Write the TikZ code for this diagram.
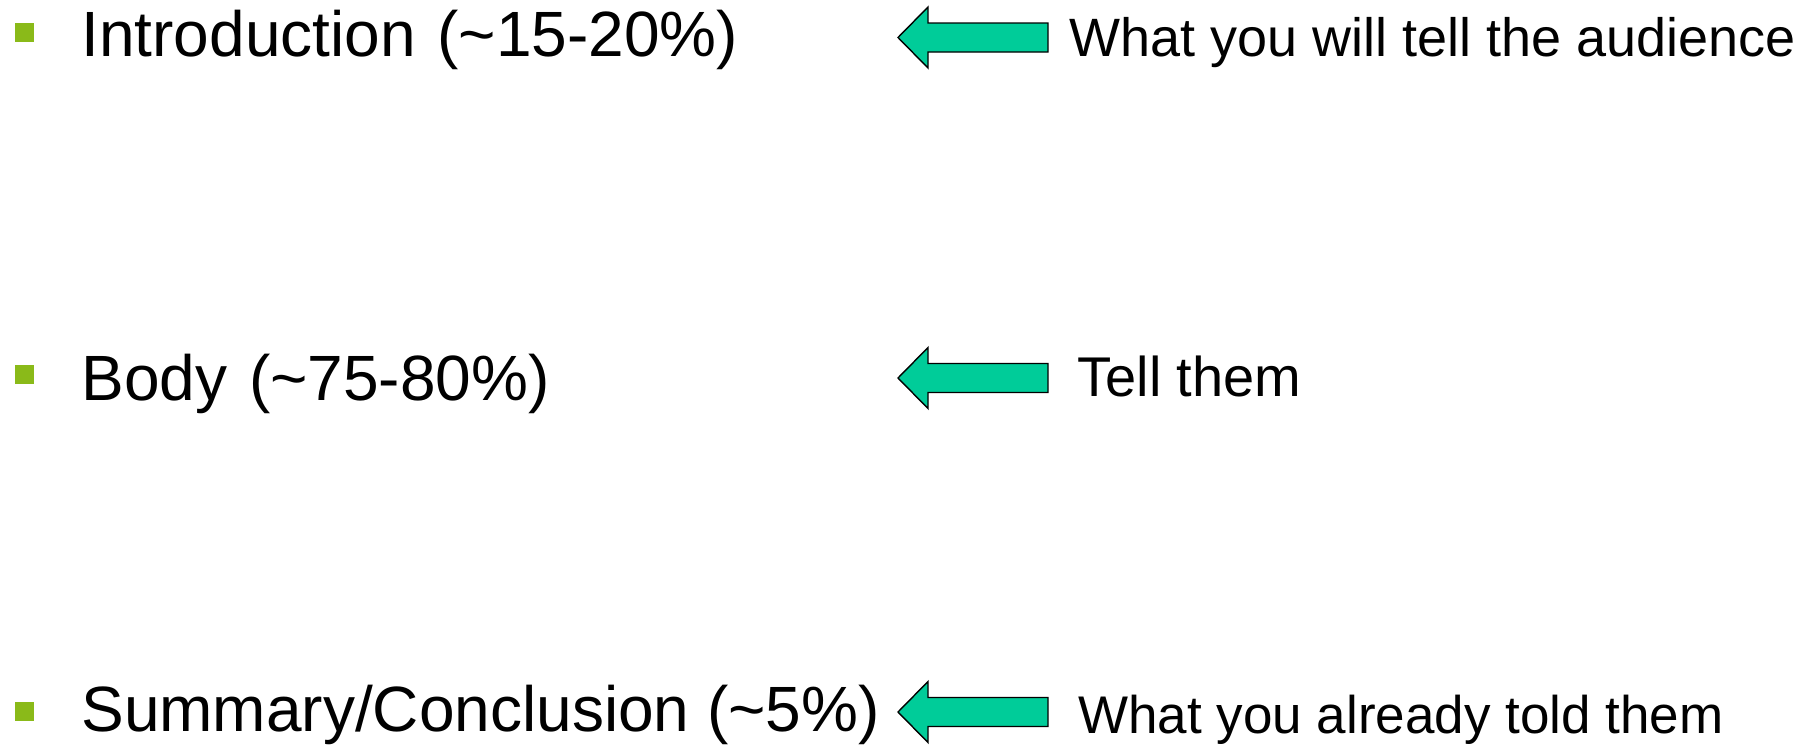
\documentclass[tikz,border=0pt]{standalone}
\usepackage{fontspec}
\setmainfont{Liberation Sans}
\usetikzlibrary{positioning}
\definecolor{BulletGreen}{RGB}{138,186,25}
\definecolor{ArrowTeal}{RGB}{0,204,153}

\begin{document}
\begin{tikzpicture}[x=0.5pt,y=-0.5pt,
  topic/.style={anchor=base west,inner sep=0pt,font=\fontsize{32}{38}\selectfont},
  remark/.style={anchor=base west,inner sep=0pt,font=\fontsize{26.5}{32}\selectfont},
  bullet/.style={fill=BulletGreen,minimum size=9.5pt,inner sep=0pt},
  pointer/.pic={\draw[fill=ArrowTeal,line width=0.7pt,line join=miter]
    (0,0) -- (30,-30.5) -- (30,-14.5) -- (150,-14.5) -- (150,14.5)
    -- (30,14.5) -- (30,30.5) -- cycle;}]
  \useasboundingbox (0,0) rectangle (1816,745);
  % left column
  \node (introdot) [bullet] at (24.5,32) {};
  \node (intro) [topic] at (81,56) {Introduction\hspace{2pt} (\textasciitilde15-20\%)};
  \node (bodydot) [bullet] at (24.5,374) {};
  \node (body) [topic] at (81,400) {Body\hspace{2pt} (\textasciitilde75-80\%)};
  \node (sumdot) [bullet] at (24.5,711) {};
  \node (summary) [topic] at (81,731) {Summary/Conclusion (\textasciitilde5\%)};
  % arrows
  \coordinate (introtip) at (898,37.5);
  \coordinate (bodytip) at (898,378);
  \coordinate (sumtip) at (898,712);
  \pic at (introtip) {pointer};
  \pic at (bodytip) {pointer};
  \pic at (sumtip) {pointer};
  % right column
  \node (tellwhat) [remark,font=\fontsize{27}{32}\selectfont] at (1069,56.5) {What you will tell the audience};
  \node (tell) [remark,font=\fontsize{28}{34}\selectfont] at (1077,396) {Tell them};
  \node (told) [remark] at (1078,733) {What you already told them};
\end{tikzpicture}
\end{document}
